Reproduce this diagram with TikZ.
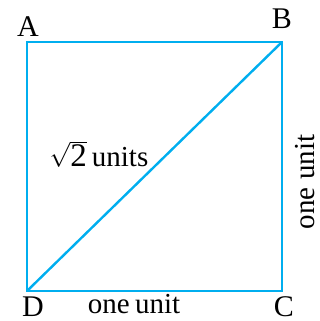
\documentclass[tikz,border=0pt]{standalone}
\usepackage{fontspec}
\setmainfont{Liberation Serif}
\definecolor{sq}{HTML}{00AEEF}
\begin{document}
\begin{tikzpicture}[x=1pt,y=-1pt,
  side/.style={draw=sq,line width=2.4pt},
  lab/.style={font=\fontsize{30}{32}\selectfont,inner sep=0pt},
  txt/.style={font=\fontsize{29}{32}\selectfont,inner sep=0pt}]
\useasboundingbox (0,0) rectangle (320,321);
\coordinate (A) at (27,42);
\coordinate (B) at (282,42);
\coordinate (C) at (282,291);
\coordinate (D) at (27,291);
\draw[side,line join=miter] (A) -- (B) -- (C) -- (D) -- cycle;
\draw[side] (D) -- (B);
\node[lab] (lA) at (28,27) {A};
\node[lab] (lB) at (282,19) {B};
\node[lab,anchor=base] (lD) at (33,316) {D};
\node[lab,anchor=base] (lC) at (284,316) {C};
\node[txt,anchor=base] (bot) at (134,313) {one\kern-2pt\ unit};
\node[txt,rotate=90] (right) at (305,182) {one unit};
\node[txt] (diag) at (99,154) {$\sqrt{\hbox{\fontsize{33}{34}\selectfont 2}}$\kern5pt units};
\end{tikzpicture}
\end{document}
